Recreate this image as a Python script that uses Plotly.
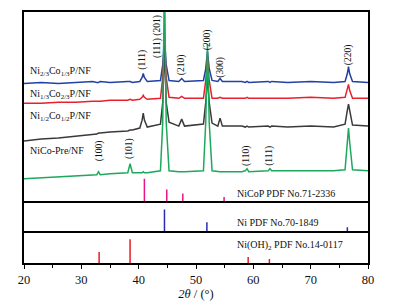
import plotly.graph_objects as go
from plotly.subplots import make_subplots

# ---------------- data ----------------
two_theta = [20, 23, 26, 29, 32, 32.7, 33.0, 33.3, 35, 38.1, 38.5, 38.9,
             40.2, 40.6, 40.8, 41.0, 41.5, 43.8, 44.2, 44.5, 44.8, 45.3,
             47.0, 47.5, 48.0, 51.3, 51.7, 52.0, 52.3, 52.8, 53.8, 54.2, 54.6,
             58, 58.6, 58.9, 59.2, 62.6, 62.9, 63.2, 66, 70, 74,
             76.0, 76.4, 76.6, 76.8, 77.3, 80]

int_ni23co13 = [119, 120, 119, 120, 121, 120, 120, 121, 120, 121, 121, 120,
                121, 125, 129, 125, 121, 122, 138, 165, 138, 122,
                121, 124, 121, 122, 134, 151, 134, 122, 121, 124, 121,
                121, 120, 121, 120, 121, 120, 121, 120, 121, 120,
                121, 129, 136, 129, 121, 120]

int_ni13co23 = [99, 99, 100, 100, 101, 101, 101, 101, 102, 102, 103, 102,
                103, 105, 107, 105, 103, 104, 125, 161, 125, 105,
                104, 106, 104, 104, 122, 146, 122, 104, 104, 105, 104,
                104, 104, 105, 104, 104, 104, 104, 104, 105, 104,
                105, 113, 118, 112, 104, 104]

int_ni12co12 = [61, 63, 64, 66, 68, 68, 69, 69, 70, 71, 72, 72,
                74, 82, 89, 82, 75, 78, 100, 156, 100, 80,
                76, 83, 76, 78, 100, 126, 100, 79, 76, 84, 76,
                76, 75, 76, 75, 76, 75, 76, 75, 76, 75,
                78, 92, 98, 92, 77, 76]

int_nico_pre = [23, 24, 25, 26, 27, 27, 30, 27, 28, 29, 38, 29,
                29, 29, 30, 29, 29, 31, 80, 230, 80, 31,
                30, 30, 30, 31, 80, 159, 80, 31, 30, 30, 30,
                30, 31, 33, 30, 31, 33, 31, 31, 31, 31,
                32, 60, 74, 60, 32, 31]

sample_names = ["Ni<sub>2/3</sub>Co<sub>1/3</sub>P/NF",
                "Ni<sub>1/3</sub>Co<sub>2/3</sub>P/NF",
                "Ni<sub>1/2</sub>Co<sub>1/2</sub>P/NF",
                "NiCo-Pre/NF"]

nicop_pos = [41.0, 44.9, 47.7, 54.9]
nicop_int = [23, 12, 8, 4.5]
ni_pos = [44.5, 51.9, 76.4]
ni_int = [22, 9, 4]
nioh_pos = [33.1, 38.5, 59.1, 62.8]
nioh_int = [11, 24, 6, 4]

ref_names = ["NiCoP PDF No.71-2336", "Ni PDF No.70-1849",
             "Ni(OH)<sub>2</sub> PDF No.14-0117"]

hkl_labels = ["(111)", "(111) (201)", "(210)", "(200)", "(300)", "(220)",
              "(100)", "(101)", "(110)", "(111)"]
hkl_x = [40.76, 43.4, 47.5, 52.0, 54.2, 76.6, 33.3, 38.5, 58.9, 62.9]
hkl_y = [143, 166, 138, 163, 135, 148, 51, 53, 46, 46]

x_ticks = [20, 30, 40, 50, 60, 70, 80]

# ---------------- figure ----------------
FONT = "Liberation Serif"
fig = make_subplots(rows=3, cols=1, shared_xaxes=True, vertical_spacing=0,
                    row_heights=[191, 30, 32])

curve_colors = ["#2241a6", "#e8202c", "#3a3a3a", "#1da85c"]
curves = [int_ni23co13, int_ni13co23, int_ni12co12, int_nico_pre]
for ys, c in zip(curves, curve_colors):
    fig.add_trace(go.Scatter(x=two_theta, y=ys, mode="lines",
                             line=dict(color=c, width=1.5), showlegend=False,
                             hoverinfo="skip"), row=1, col=1)


def sticks(pos, ints):
    xs, ys = [], []
    for p, h in zip(pos, ints):
        xs += [p, p, None]
        ys += [0, h, None]
    return xs, ys


for (pos, ints, col, row) in [(nicop_pos, nicop_int, "#e8168a", 1),
                              (ni_pos, ni_int, "#2b2bb0", 2),
                              (nioh_pos, nioh_int, "#e81c24", 3)]:
    xs, ys = sticks(pos, ints)
    fig.add_trace(go.Scatter(x=xs, y=ys, mode="lines",
                             line=dict(color=col, width=1.5), showlegend=False,
                             hoverinfo="skip"), row=row, col=1)

# sample labels
for name, yv in zip(sample_names, [131, 108, 86, 51]):
    fig.add_annotation(x=20.7, y=yv, xref="x", yref="y", text=name,
                       showarrow=False, xanchor="left", yanchor="middle",
                       font=dict(family=FONT, size=10, color="#111"))

# hkl labels
for t, xv, yv in zip(hkl_labels, hkl_x, hkl_y):
    fig.add_annotation(x=xv, y=yv, xref="x", yref="y", text=t, textangle=-90,
                       showarrow=False, xanchor="center", yanchor="middle",
                       font=dict(family=FONT, size=9.5, color="#111"))

# reference labels
for t, yv, yr in zip(ref_names, [8, 9, 18], ["y", "y2", "y3"]):
    fig.add_annotation(x=56.8, y=yv, xref="x", yref=yr, text=t,
                       showarrow=False, xanchor="left", yanchor="middle",
                       font=dict(family=FONT, size=10, color="#111"))

axis_common = dict(showline=True, linecolor="black", linewidth=1.6,
                   showgrid=False, zeroline=False)

fig.update_yaxes(showticklabels=False, ticks="", mirror=True, **axis_common)
fig.update_yaxes(range=[0, 191], row=1, col=1)
fig.update_yaxes(range=[0, 30], row=2, col=1)
fig.update_yaxes(range=[0, 32], row=3, col=1)

fig.update_xaxes(range=[20, 80], tickvals=x_ticks, **axis_common)
fig.update_xaxes(ticks="", showticklabels=False, mirror=True, row=1, col=1)
fig.update_xaxes(ticks="", showticklabels=False, mirror=False, row=2, col=1)
fig.update_xaxes(ticks="outside", ticklen=4, tickwidth=1.2, tickcolor="black",
                 mirror=False,
                 minor=dict(dtick=5, ticks="outside", ticklen=3,
                            tickwidth=1.2, tickcolor="black"),
                 tickfont=dict(family=FONT, size=12.5, color="#111"),
                 title=dict(text="<i>2θ</i> / (°)",
                            font=dict(family=FONT, size=12.5, color="#111"),
                            standoff=2),
                 row=3, col=1)

# page body has an 8px default margin; shift figure margins to compensate
fig.update_layout(width=393, height=306,
                  margin=dict(l=16, r=33, t=2, b=51),
                  paper_bgcolor="white", plot_bgcolor="white")

fig.write_html("out.html")
